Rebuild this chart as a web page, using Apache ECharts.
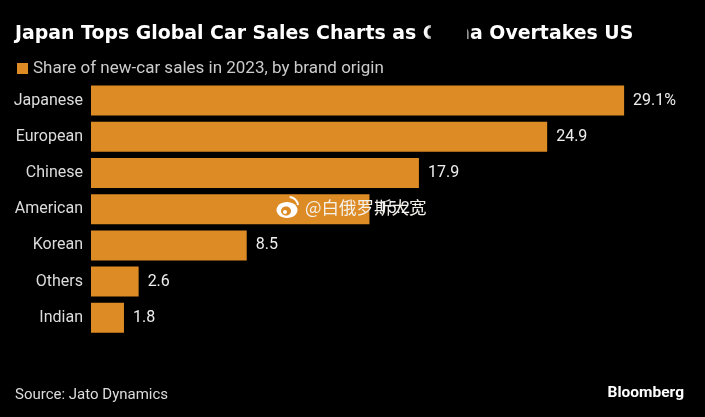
<!DOCTYPE html>
<html>
<head>
<meta charset="utf-8">
<script src="https://cdn.jsdelivr.net/npm/echarts@6/dist/echarts.min.js"></script>
<style>html,body{margin:0;padding:0;background:#000}#main{width:705px;height:417px}</style>
</head>
<body>
<div id="main"></div>
<script>
var categories = ['Japanese', 'European', 'Chinese', 'American', 'Korean', 'Others', 'Indian'];
var shares = [29.1, 24.9, 17.9, 15.2, 8.5, 2.6, 1.8];
var seriesName = 'Share of new-car sales in 2023, by brand origin';
var font = 'Roboto';

var myChart = echarts.init(document.getElementById('main'));
var option = {
	backgroundColor: '#000',
	animation: false,
	title: [{
		text: 'Japan Tops Global Car Sales Charts as China Overtakes US',
		left: 15, top: 25, padding: 0,
		textStyle: {color: '#fff', fontFamily: 'DejaVu Sans', fontWeight: 'bold', fontSize: 18.9}
	}, {
		text: 'Source: Jato Dynamics',
		left: 15, top: 388, padding: 0,
		textStyle: {color: '#ddd', fontFamily: font, fontWeight: 'normal', fontSize: 15}
	}, {
		text: 'Bloomberg',
		right: 21, top: 385, padding: 0,
		textStyle: {color: '#fff', fontFamily: font, fontWeight: 'bold', fontSize: 15.5}
	}],
	legend: {
		left: 17, top: 60, padding: 0,
		icon: 'rect', itemWidth: 11, itemHeight: 11, itemGap: 5,
		textStyle: {color: '#ccc', fontFamily: font, fontSize: 17, padding: [0, 0, 0, 0]},
		data: [seriesName]
	},
	grid: {left: 91, top: 82.5, width: 549.6, height: 253.4},
	xAxis: {type: 'value', min: 0, max: 30, show: false},
	yAxis: {
		type: 'category',
		inverse: true,
		data: categories,
		axisLine: {show: false},
		axisTick: {show: false},
		axisLabel: {color: '#ddd', fontFamily: font, fontSize: 16, margin: 8}
	},
	series: [{
		name: seriesName,
		type: 'bar',
		data: shares,
		barWidth: 30,
		itemStyle: {color: '#dd8b25'},
		label: {
			show: true,
			position: 'right',
			distance: 9,
			color: '#eee',
			fontFamily: font,
			fontSize: 16,
			formatter: function (p) {
				return p.dataIndex === 0 ? p.value + '%' : p.value;
			}
		}
	}],
	graphic: [
		// the blurred patch over the word in the headline
		{type: 'rect', z: 100, shape: {x: 431, y: 24, width: 36, height: 22},
			style: {fill: '#000', shadowBlur: 5, shadowColor: '#000'}},
		// watermark
		{type: 'ellipse', z: 100, shape: {cx: 287, cy: 210, rx: 10.5, ry: 8}, style: {fill: '#fff'}},
		{type: 'ellipse', z: 101, shape: {cx: 286, cy: 211, rx: 5, ry: 4.5}, style: {fill: '#dd8b25'}},
		{type: 'circle', z: 102, shape: {cx: 285, cy: 212, r: 2}, style: {fill: '#fff'}},
		{type: 'arc', z: 100, shape: {cx: 289, cy: 206, r: 9, startAngle: -1.5, endAngle: -0.1},
			style: {stroke: '#fff', lineWidth: 2, fill: 'none'}},
		{type: 'text', z: 100, x: 305, y: 199,
			style: {text: '@白俄罗斯大宽', fill: '#f4f0ea', fontFamily: 'Noto Sans CJK SC', fontSize: 17.5}}
	]
};
myChart.setOption(option);
</script>
</body>
</html>
